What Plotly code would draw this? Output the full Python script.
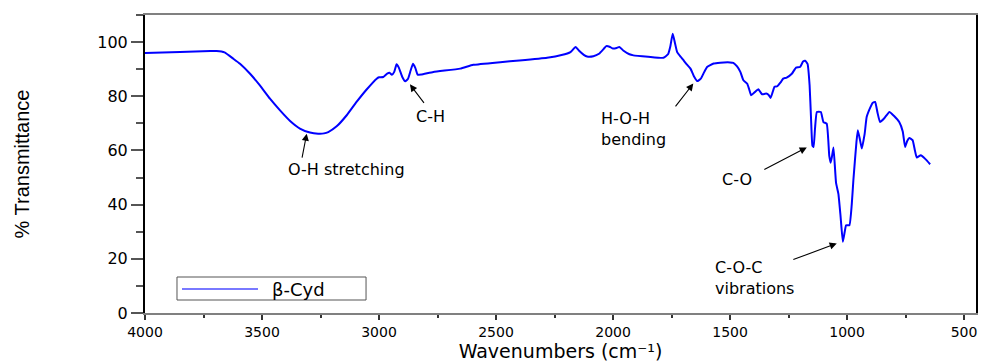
import plotly.graph_objects as go

# FTIR spectrum of beta-cyclodextrin (wavenumber in cm^-1, % transmittance)
wavenumber = [
    4000, 3850, 3720, 3694, 3660, 3623, 3594, 3551, 3509, 3466, 3423, 3380,
    3338, 3295, 3260, 3235, 3217, 3181, 3138, 3096, 3053, 3010,
    3000, 2982, 2965, 2955, 2945, 2935, 2925, 2915, 2900, 2888, 2876, 2865,
    2855, 2845, 2835, 2820, 2768, 2653, 2597, 2482, 2400, 2282, 2220, 2182,
    2160, 2145, 2125, 2111, 2084, 2060, 2040, 2029, 2015, 2000, 1985, 1973,
    1955, 1930, 1913, 1850, 1785, 1765, 1755, 1745, 1735, 1726, 1710, 1699,
    1685, 1669, 1655, 1640, 1625, 1610, 1598, 1570, 1542, 1500, 1486, 1470,
    1456, 1443, 1427, 1418, 1410, 1395, 1379, 1370, 1363, 1346, 1335, 1327,
    1318, 1310, 1298, 1285, 1273, 1258, 1236, 1218, 1201, 1188, 1179, 1169,
    1160, 1154, 1148, 1143, 1137, 1129, 1112, 1101, 1087, 1076, 1070, 1065,
    1058, 1047, 1037, 1028, 1018, 1010, 1004, 990, 980, 973, 960, 954, 945,
    937, 925, 916, 900, 890, 880, 870, 859, 840, 819, 800, 777, 762, 752,
    743, 734, 720, 710, 702, 685, 665, 645,
]
transmittance = [
    96.0, 96.3, 96.7, 96.7, 96.2, 93.9, 92.0, 88.3, 84.0, 79.1, 74.8, 70.9,
    68.1, 66.6, 66.2, 66.3, 66.8, 68.9, 73.0, 77.9, 82.5, 86.5,
    87.0, 87.1, 88.4, 88.7, 87.9, 89.0, 91.8, 90.5, 87.0, 85.5, 86.5, 89.5,
    92.0, 90.5, 88.0, 88.0, 89.0, 90.2, 91.6, 92.6, 93.2, 94.2, 95.2, 96.3,
    98.2, 96.8, 95.3, 94.7, 94.8, 95.7, 97.5, 98.5, 98.3, 97.6, 97.8, 98.2,
    96.8, 95.5, 95.1, 94.6, 94.2, 95.5, 98.5, 103.1, 99.5, 96.3, 94.5, 93.3,
    91.8, 90.2, 87.5, 85.6, 86.5, 89.0, 90.8, 92.1, 92.4, 92.5, 92.3, 91.0,
    89.0, 85.9, 84.7, 82.5, 80.4, 81.5, 82.6, 81.5, 80.7, 81.0, 80.5, 79.4,
    81.5, 83.5, 83.7, 85.0, 86.5, 86.9, 88.3, 90.6, 90.8, 92.8, 93.1, 92.0,
    84.0, 72.0, 61.8, 61.3, 68.0, 74.2, 74.2, 70.5, 69.9, 58.0, 55.5, 57.5,
    61.1, 48.0, 44.0, 36.0, 26.3, 30.0, 32.4, 32.4, 40.0, 49.0, 63.0, 67.5,
    64.0, 60.7, 66.0, 72.4, 76.0, 77.6, 77.9, 74.0, 70.5, 72.0, 74.2, 72.8,
    70.5, 67.0, 61.3, 63.5, 64.6, 63.8, 60.0, 57.4, 58.2, 56.8, 54.9,
]

# Band assignments: label, label position, arrow tail, arrow tip (data units)
band_labels = ["O-H stretching", "C-H", "H-O-H<br>bending", "C-O", "C-O-C<br>vibrations"]
label_x = [3141, 2779, 2060, 1471, 1575]
label_y = [53.1, 72.6, 68.0, 49.4, 12.8]
label_anchor = ["center", "center", "left", "center", "left"]
arrow_tail_x = [3330, 2803, 1738, 1360, 1236]
arrow_tail_y = [56.8, 77.0, 75.7, 52.7, 19.5]
arrow_tip_x = [3309, 2868, 1657, 1172, 1044]
arrow_tip_y = [66.2, 84.4, 84.7, 61.1, 25.7]

x_ticks = [4000, 3500, 3000, 2500, 2000, 1500, 1000, 500]
y_ticks = [0, 20, 40, 60, 80, 100]

series_name = "β-Cyd"

FONT = "DejaVu Sans"

fig = go.Figure()
fig.add_trace(go.Scatter(
    x=wavenumber, y=transmittance, mode="lines", name=series_name,
    line=dict(color="#0000ff", width=2, shape="spline", smoothing=0.4),
    showlegend=False,
))

annotations = []
for tx, ty, hx, hy in zip(arrow_tail_x, arrow_tail_y, arrow_tip_x, arrow_tip_y):
    annotations.append(dict(
        x=hx, y=hy, ax=tx, ay=ty, xref="x", yref="y", axref="x", ayref="y",
        text="", showarrow=True, arrowhead=2, arrowsize=1.3, arrowwidth=1.1,
        arrowcolor="black",
    ))
for lbl, lx, ly, anc in zip(band_labels, label_x, label_y, label_anchor):
    annotations.append(dict(
        x=lx, y=ly, xref="x", yref="y", text=lbl, showarrow=False,
        xanchor=anc, yanchor="middle", align="left",
        font=dict(family=FONT, size=16, color="black"),
    ))

# Framed legend drawn in paper coordinates
annotations.append(dict(
    x=0.185, y=0.0805, xref="paper", yref="paper", text=series_name,
    showarrow=False, xanchor="center", yanchor="middle",
    font=dict(family=FONT, size=18, color="black"),
))
shapes = [
    dict(type="rect", xref="paper", yref="paper", x0=0.0385, x1=0.266,
         y0=0.0436, y1=0.1208, line=dict(color="#555555", width=1),
         fillcolor="white", layer="below"),
    dict(type="line", xref="paper", yref="paper", x0=0.0445, x1=0.136,
         y0=0.0805, y1=0.0805, line=dict(color="#4d4dff", width=1.5)),
]

fig.update_layout(
    width=988, height=363,
    margin=dict(l=145, r=12, t=15, b=50, autoexpand=False),
    plot_bgcolor="white", paper_bgcolor="white",
    annotations=annotations, shapes=shapes,
    showlegend=False,
)
fig.update_xaxes(
    range=[4000, 449], autorange=False, automargin=False,
    tickvals=x_ticks, ticktext=[str(v) for v in x_ticks],
    ticks="outside", ticklen=5, tickwidth=1.5, tickcolor="#333333",
    minor=dict(dtick=250, tick0=0, ticks="outside", ticklen=3,
               tickwidth=1.5, tickcolor="#333333"),
    showline=True, linecolor="#808080", linewidth=1.5, mirror=True,
    showgrid=False, zeroline=False,
    tickfont=dict(family=FONT, size=14, color="black"),
    title=dict(text="Wavenumbers (cm⁻¹)", standoff=6,
               font=dict(family=FONT, size=19, color="black")),
)
fig.update_yaxes(
    range=[0, 110], autorange=False, automargin=False,
    tickvals=y_ticks, ticktext=[str(v) for v in y_ticks],
    ticks="outside", ticklen=12, tickwidth=1.5, tickcolor="#555555",
    minor=dict(dtick=10, tick0=0, ticks="outside", ticklen=7,
               tickwidth=1.5, tickcolor="#555555"),
    showline=True, linecolor="black", linewidth=2, mirror=True,
    showgrid=False, zeroline=False,
    tickfont=dict(family=FONT, size=16, color="black"),
    title=dict(text="% Transmittance", standoff=62,
               font=dict(family="Liberation Sans Narrow, Liberation Sans", size=20, color="black")),
)

fig.write_html("out.html")
